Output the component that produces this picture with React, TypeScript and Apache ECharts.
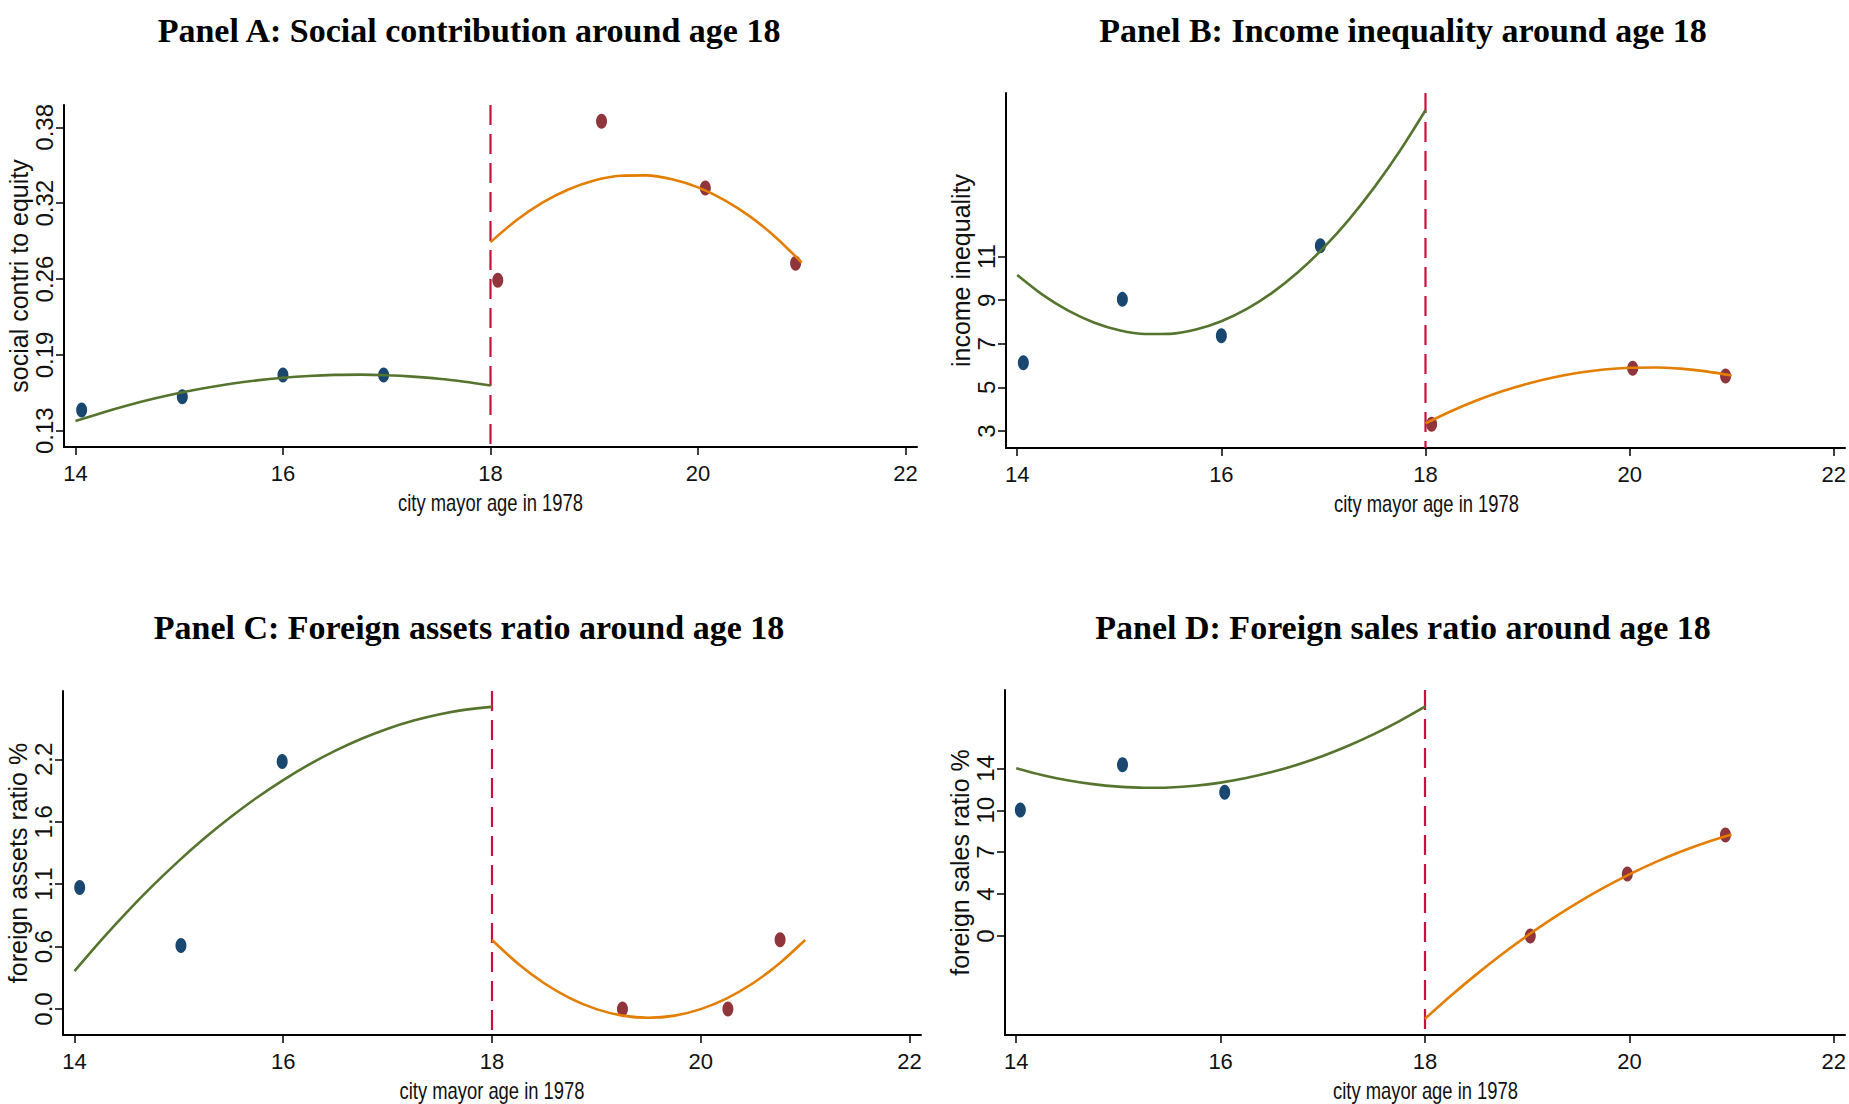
import React, { useEffect, useRef } from "react";
import * as echarts from "echarts";

// ---------- data ----------
const X_TICKS = [14, 16, 18, 20, 22];
const CUTOFF = 18;
const X_NAME = "city mayor age in 1978";
const FIT_X_LEFT = [14, 14.25, 14.5, 14.75, 15, 15.25, 15.5, 15.75, 16, 16.25, 16.5, 16.75, 17, 17.25, 17.5, 17.75, 18];
const FIT_X_RIGHT = [18, 18.25, 18.5, 18.75, 19, 19.25, 19.5, 19.75, 20, 20.25, 20.5, 20.75, 21];

// Panel A
const TITLE_A = "Panel A: Social contribution around age 18";
const YNAME_A = "social contri to equity";
const XA_LEFT = [14.06, 15.03, 16.0, 16.97];
const YA_LEFT = [0.147, 0.158, 0.176, 0.176];
const XA_RIGHT = [18.07, 19.07, 20.07, 20.94];
const YA_RIGHT = [0.254, 0.385, 0.33, 0.268];
const FITA_LEFT = [0.138, 0.1447, 0.1508, 0.1563, 0.1611, 0.1652, 0.1687, 0.1715, 0.1736, 0.1751, 0.176, 0.1762, 0.1757, 0.1746, 0.1729, 0.1704, 0.1673];
const FITA_RIGHT = [0.2854, 0.3034, 0.3179, 0.3288, 0.3362, 0.3401, 0.3404, 0.3372, 0.3305, 0.3203, 0.3066, 0.2893, 0.2685];
const YTICKS_A = [0.13, 0.1925, 0.255, 0.3175, 0.38];
const YLABELS_A = ["0.13", "0.19", "0.26", "0.32", "0.38"];
const YRANGE_A = [0.1166, 0.3984];

// Panel B
const TITLE_B = "Panel B: Income inequality around age 18";
const YNAME_B = "income inequality";
const XB_LEFT = [14.06, 15.03, 16.0, 16.97];
const YB_LEFT = [6.13, 9.04, 7.37, 11.5];
const XB_RIGHT = [18.06, 20.03, 20.94];
const YB_RIGHT = [3.31, 5.88, 5.52];
const FITB_LEFT = [10.16, 9.249, 8.522, 7.979, 7.621, 7.448, 7.459, 7.655, 8.035, 8.599, 9.348, 10.282, 11.4, 12.702, 14.19, 15.861, 17.717];
const FITB_RIGHT = [3.35, 3.908, 4.398, 4.82, 5.173, 5.458, 5.675, 5.824, 5.904, 5.917, 5.861, 5.736, 5.544];
const YTICKS_B = [3, 5, 7, 9, 11];
const YLABELS_B = ["3", "5", "7", "9", "11"];
const YRANGE_B = [2.22, 18.51];

// Panel C
const TITLE_C = "Panel C: Foreign assets ratio around age 18";
const YNAME_C = "foreign assets ratio %";
const XC_LEFT = [14.05, 15.02, 15.99];
const YC_LEFT = [1.07, 0.56, 2.18];
const XC_RIGHT = [19.25, 20.26, 20.76];
const YC_RIGHT = [0.0, 0.0, 0.61];
const FITC_LEFT = [0.334, 0.601, 0.852, 1.087, 1.305, 1.508, 1.694, 1.864, 2.017, 2.155, 2.276, 2.381, 2.47, 2.542, 2.598, 2.638, 2.662];
const FITC_RIGHT = [0.608, 0.399, 0.227, 0.094, -0.001, -0.058, -0.077, -0.058, -0.001, 0.094, 0.227, 0.399, 0.608];
const YTICKS_C = [0, 0.55, 1.1, 1.65, 2.2];
const YLABELS_C = ["0.0", "0.6", "1.1", "1.6", "2.2"];
const YRANGE_C = [-0.229, 2.802];

// Panel D
const TITLE_D = "Panel D: Foreign sales ratio around age 18";
const YNAME_D = "foreign sales ratio %";
const XD_LEFT = [14.04, 15.04, 16.04];
const YD_LEFT = [10.53, 14.29, 12.0];
const XD_RIGHT = [19.03, 19.98, 20.94];
const YD_RIGHT = [0.0, 5.18, 8.44];
const FITD_LEFT = [14.016, 13.453, 13.008, 12.68, 12.471, 12.379, 12.405, 12.548, 12.81, 13.189, 13.686, 14.301, 15.034, 15.885, 16.853, 17.939, 19.143];
const FITD_RIGHT = [-6.91, -5.009, -3.22, -1.544, 0.02, 1.471, 2.81, 4.036, 5.15, 6.151, 7.04, 7.816, 8.48];
const YTICKS_D = [0, 3.5, 7, 10.5, 14];
const YLABELS_D = ["0", "4", "7", "10", "14"];
const YRANGE_D = [-8.26, 20.54];

const X_RANGE = [13.89, 22.11];

// ---------- styling ----------
const NAVY = "#1a476f";
const MAROON = "#90353b";
const GREEN = "#55752f";
const ORANGE = "#e37e00";
const RED = "#c8103e";
const SANS = "'Liberation Sans', Arial, sans-serif";
const SERIF = "'Liberation Serif', 'Times New Roman', serif";

const zip = (xs: number[], ys: number[]) => xs.map((x, i) => [x, ys[i]]);

const PANELS = [
  { title: TITLE_A, yName: YNAME_A, xl: XA_LEFT, yl: YA_LEFT, xr: XA_RIGHT, yr: YA_RIGHT, fl: FITA_LEFT, fr: FITA_RIGHT, ticks: YTICKS_A, labels: YLABELS_A, range: YRANGE_A },
  { title: TITLE_B, yName: YNAME_B, xl: XB_LEFT, yl: YB_LEFT, xr: XB_RIGHT, yr: YB_RIGHT, fl: FITB_LEFT, fr: FITB_RIGHT, ticks: YTICKS_B, labels: YLABELS_B, range: YRANGE_B },
  { title: TITLE_C, yName: YNAME_C, xl: XC_LEFT, yl: YC_LEFT, xr: XC_RIGHT, yr: YC_RIGHT, fl: FITC_LEFT, fr: FITC_RIGHT, ticks: YTICKS_C, labels: YLABELS_C, range: YRANGE_C },
  { title: TITLE_D, yName: YNAME_D, xl: XD_LEFT, yl: YD_LEFT, xr: XD_RIGHT, yr: YD_RIGHT, fl: FITD_LEFT, fr: FITD_RIGHT, ticks: YTICKS_D, labels: YLABELS_D, range: YRANGE_D },
];

const GRIDS = [
  { left: 64, top: 105, width: 853, height: 342 },
  { left: 1006, top: 93, width: 841, height: 355 },
  { left: 63, top: 691, width: 858, height: 344 },
  { left: 1005, top: 690, width: 841, height: 345 },
];
const TITLE_POS = [
  [469, 30],
  [1403, 30],
  [469, 627],
  [1403, 627],
];
const XNAME_DY = 56;

function buildOption() {
  const xAxis: any[] = [];
  const yAxis: any[] = [];
  const series: any[] = [];
  const graphic: any[] = [];
  PANELS.forEach((p, i) => {
    const g = GRIDS[i];
    xAxis.push({
      gridIndex: i,
      type: "value",
      min: X_RANGE[0],
      max: X_RANGE[1],
      axisLine: { show: true, onZero: false, lineStyle: { color: "#000", width: 2 } },
      axisTick: { show: true, length: 8, customValues: X_TICKS, lineStyle: { color: "#000", width: 1.5 } },
      axisLabel: { show: true, customValues: X_TICKS, margin: 15, fontFamily: SANS, fontSize: 22, color: "#111" },
      splitLine: { show: false },
    });
    const ticks = p.ticks;
    const labels = p.labels;
    yAxis.push({
      gridIndex: i,
      type: "value",
      min: p.range[0],
      max: p.range[1],
      name: p.yName,
      nameLocation: "middle",
      nameGap: 29,
      nameTextStyle: { fontFamily: SANS, fontSize: 25, color: "#111" },
      axisLine: { show: true, onZero: false, lineStyle: { color: "#000", width: 2 } },
      axisTick: { show: true, length: 8, customValues: ticks, lineStyle: { color: "#000", width: 1.5 } },
      axisLabel: {
        show: true,
        customValues: ticks,
        rotate: 90,
        margin: 8,
        fontFamily: SANS,
        fontSize: 24,
        color: "#111",
        formatter: (v: number) => {
          let best = 0;
          ticks.forEach((t, k) => {
            if (Math.abs(t - v) < Math.abs(ticks[best] - v)) best = k;
          });
          return labels[best];
        },
      },
      splitLine: { show: false },
    });
    series.push({
      type: "scatter",
      xAxisIndex: i,
      yAxisIndex: i,
      data: zip(p.xl, p.yl),
      symbol: "circle",
      symbolSize: [11, 15],
      itemStyle: { color: NAVY, opacity: 1 },
      z: 2,
    });
    series.push({
      type: "scatter",
      xAxisIndex: i,
      yAxisIndex: i,
      data: zip(p.xr, p.yr),
      symbol: "circle",
      symbolSize: [11, 15],
      itemStyle: { color: MAROON, opacity: 1 },
      z: 2,
    });
    series.push({
      type: "line",
      xAxisIndex: i,
      yAxisIndex: i,
      data: zip(FIT_X_LEFT, p.fl),
      smooth: 0.3,
      symbol: "none",
      lineStyle: { color: GREEN, width: 2.6 },
      z: 3,
    });
    series.push({
      type: "line",
      xAxisIndex: i,
      yAxisIndex: i,
      data: zip(FIT_X_RIGHT, p.fr),
      smooth: 0.3,
      symbol: "none",
      lineStyle: { color: ORANGE, width: 2.6 },
      z: 3,
    });
    series.push({
      type: "line",
      xAxisIndex: i,
      yAxisIndex: i,
      data: [
        [CUTOFF, p.range[1]],
        [CUTOFF, p.range[0]],
      ],
      symbol: "none",
      lineStyle: { color: RED, width: 2.2, type: [20, 9] },
      z: 1,
    });
    graphic.push({
      type: "text",
      x: TITLE_POS[i][0],
      y: TITLE_POS[i][1],
      style: {
        text: p.title,
        fontFamily: SERIF,
        fontSize: 34,
        fontWeight: "bold",
        fill: "#000",
        align: "center",
        verticalAlign: "middle",
      },
    });
    graphic.push({
      type: "text",
      x: g.left + g.width / 2,
      y: g.top + g.height + XNAME_DY,
      scaleX: 0.8,
      style: {
        text: X_NAME,
        fontFamily: SANS,
        fontSize: 23,
        fill: "#111",
        align: "center",
        verticalAlign: "middle",
      },
    });
  });
  return {
    animation: false,
    backgroundColor: "#ffffff",
    grid: GRIDS,
    xAxis,
    yAxis,
    series,
    graphic,
  };
}

export default function App() {
  const ref = useRef<HTMLDivElement>(null);
  useEffect(() => {
    document.body.style.margin = "0";
    if (!ref.current) return;
    const chart = echarts.init(ref.current, undefined, { renderer: "svg" });
    chart.setOption(buildOption() as any);
    return () => chart.dispose();
  }, []);
  return (
    <div
      ref={ref}
      style={{ position: "absolute", left: 0, top: 0, width: 1849, height: 1104, background: "#fff" }}
    />
  );
}
